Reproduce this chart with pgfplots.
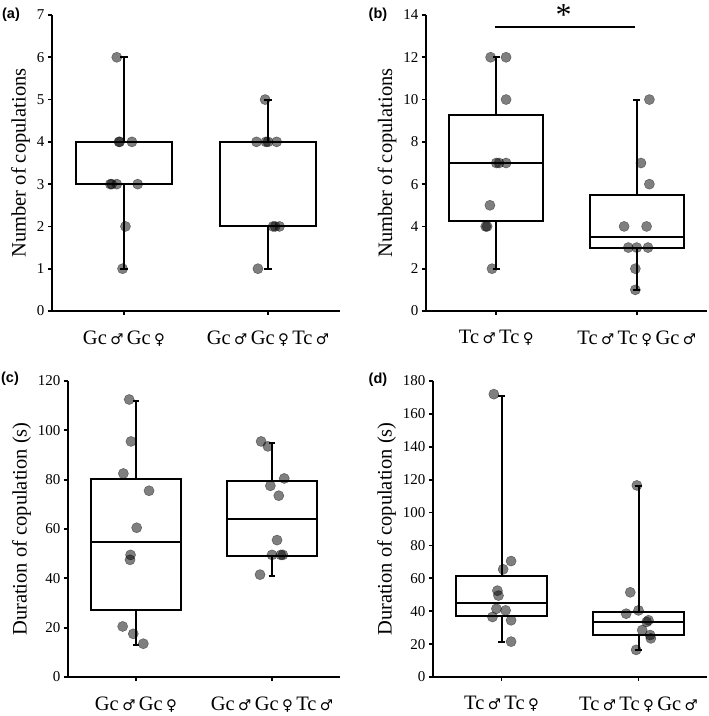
\documentclass[border=0pt]{standalone}
\usepackage{pgfplots}
\pgfplotsset{compat=1.18}
\usepackage{fontspec}
\setmainfont{Liberation Serif}
\newfontfamily\symfont{DejaVu Sans}[Scale=0.72]
\newfontfamily\labfont{Liberation Sans}
\newcommand{\M}{{\symfont ♂}}
\newcommand{\F}{{\symfont ♀}}

\pgfplotsset{
 panel/.style={
  scale only axis, anchor=south west, height=296pt,
  axis lines=left, axis line style={-, line width=1.7pt},
  major tick style={line width=1.7pt, black}, tick align=outside, major tick length=4pt,
  xmin=-0.5, xmax=1.5, xtick={0,1}, ymin=0, clip=false,
  yticklabel style={font=\fontsize{15}{15}\selectfont},
  xticklabel style={font=\fontsize{20.5}{20.5}\selectfont, yshift=-12pt},
  ylabel style={font=\fontsize{20.5}{20.5}\selectfont},
  /pgf/number format/assume math mode=true,
  minor tick num=0,
 },
 bx/.style={black, line width=2pt, solid, mark=none},
 dots/.style={only marks, mark=*, mark size=5.1pt, mark options={fill=black, draw=none, opacity=0.5}},
}
% box: position, lower whisker, lower quartile, median, upper quartile, upper whisker
\newcommand{\bp}[6]{%
 \pgfmathsetmacro\bxl{#1-0.333}\pgfmathsetmacro\bxr{#1+0.333}%
 \pgfmathsetmacro\cpl{#1-0.025}\pgfmathsetmacro\cpr{#1+0.025}%
 \addplot[bx] coordinates {(\bxl,#3) (\bxr,#3) (\bxr,#5) (\bxl,#5) (\bxl,#3) (\bxr,#3)};
 \addplot[bx] coordinates {(\bxl,#4) (\bxr,#4)};
 \addplot[bx] coordinates {(#1,#5) (#1,#6)};
 \addplot[bx] coordinates {(\cpl,#6) (\cpr,#6)};
 \addplot[bx] coordinates {(#1,#3) (#1,#2)};
 \addplot[bx] coordinates {(\cpl,#2) (\cpr,#2)};
}

\begin{document}
\begin{tikzpicture}
\useasboundingbox (0pt,0pt) rectangle (709pt,716pt);

% (a)
\begin{axis}[panel, at={(52pt,405pt)}, width=288pt, ymax=7, ytick={0,1,...,7},
  xticklabels={{Gc\,\M\,Gc\,\F},{Gc\,\M\,Gc\,\F\,Tc\,\M}},
  ylabel={Number of copulations}]
\bp{0}{1}{3}{3}{4}{6}
\bp{1}{1}{2}{4}{4}{5}
\addplot[dots] table {
x y
-0.05 6
-0.035 4
-0.03 4
0.055 4
-0.095 3
-0.085 3
-0.05 3
0.095 3
0.01 2
-0.01 1
};
\addplot[dots] table {
x y
0.98 5
0.92 4
0.985 4
1.0 4
1.06 4
1.035 2
1.05 2
1.08 2
0.93 1
};
\end{axis}

% (b)
\begin{axis}[panel, at={(426pt,405pt)}, width=281pt, ymax=14, ytick={0,2,...,14},
  xticklabels={{Tc\,\M\,Tc\,\F},{Tc\,\M\,Tc\,\F\,Gc\,\M}},
  ylabel={Number of copulations}]
\bp{0}{2}{4.25}{7}{9.25}{12}
\bp{1}{1}{3}{3.5}{5.5}{10}
\addplot[dots] table {
x y
-0.04 12
0.07 12
0.07 10
0.0 7
0.02 7
0.07 7
-0.045 5
-0.075 4
-0.065 4
-0.03 2
};
\addplot[dots] table {
x y
1.09 10
1.03 7
1.09 6
0.91 4
1.07 4
0.94 3
1.0 3
1.08 3
0.99 2
0.99 1
};
\addplot[black, line width=1.8pt] coordinates {(-0.01,13.45) (0.99,13.45)};
\node[font=\fontsize{32}{32}\selectfont, anchor=base] at (axis cs:0.48,13.5) {*};
\end{axis}

% (c)
\begin{axis}[panel, at={(68pt,39pt)}, width=272pt, ymax=120, ytick={0,20,...,120},
  xticklabels={{Gc\,\M\,Gc\,\F},{Gc\,\M\,Gc\,\F\,Tc\,\M}},
  ylabel={Duration of copulation (s)}]
\bp{0}{13}{27}{54.6}{80.4}{112}
\bp{1}{41}{49}{64}{79.3}{95}
\addplot[dots] table {
x y
-0.05 112.5
-0.037 95.5
-0.093 82.5
0.096 75.5
0.005 60.5
-0.04 49.5
-0.044 47.5
-0.098 20.5
-0.02 17.5
0.054 13.5
};
\addplot[dots] table {
x y
0.92 95.5
0.97 93.5
1.09 80.5
0.988 77.5
1.05 73.5
1.037 55.5
1.0 49.5
1.065 49.5
1.08 49.5
0.912 41.5
};
\end{axis}

% (d)
\begin{axis}[panel, at={(433pt,39pt)}, width=274pt, ymax=180, ytick={0,20,...,180},
  xticklabels={{Tc\,\M\,Tc\,\F},{Tc\,\M\,Tc\,\F\,Gc\,\M}},
  ylabel={Duration of copulation (s)}]
\bp{0}{21}{37}{45}{61.6}{171}
\bp{1}{16.5}{25.7}{33.4}{39.3}{116}
\addplot[dots] table {
x y
-0.056 172
0.07 70.5
0.012 65.5
-0.03 52.5
-0.022 49.5
-0.037 41.5
0.03 40.5
-0.066 36.5
0.07 34.5
0.07 21.5
};
\addplot[dots] table {
x y
0.988 116.5
0.94 51.5
1.0 40.5
0.91 38.5
1.073 34.5
1.06 33.5
1.027 28.5
1.085 25.5
1.09 23.5
0.983 16.5
};
\end{axis}

\node[font=\labfont\bfseries\fontsize{14.5}{14.5}\selectfont] at (11pt,701pt) {(a)};
\node[font=\labfont\bfseries\fontsize{14.5}{14.5}\selectfont] at (378pt,701pt) {(b)};
\node[font=\labfont\bfseries\fontsize{14.5}{14.5}\selectfont] at (10pt,337pt) {(c)};
\node[font=\labfont\bfseries\fontsize{14.5}{14.5}\selectfont] at (378pt,336pt) {(d)};
\end{tikzpicture}
\end{document}
